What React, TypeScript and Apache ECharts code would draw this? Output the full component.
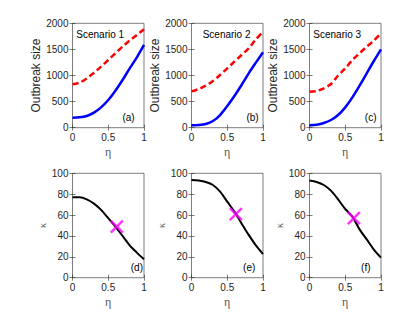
import React, { useEffect, useRef } from "react";
import * as echarts from "echarts";

const eta = [0, 0.1, 0.2, 0.3, 0.4, 0.5, 0.6, 0.7, 0.8, 0.9, 1.0];

const blueA = [192, 198, 224, 288, 390, 530, 709, 914, 1137, 1348, 1585];
const redA = [831, 863, 946, 1054, 1169, 1297, 1425, 1553, 1668, 1776, 1885];
const blueB = [45, 51, 70, 128, 243, 415, 607, 818, 1042, 1246, 1444];
const redB = [696, 741, 805, 895, 1010, 1137, 1265, 1393, 1521, 1690, 1835];
const blueC = [45, 58, 90, 147, 243, 390, 581, 805, 1042, 1278, 1502];
const redC = [690, 703, 754, 837, 1000, 1137, 1297, 1425, 1553, 1668, 1805];

const kappaD = [77, 77, 75, 71, 65, 57, 49, 40, 31, 24, 17.6];
const kappaE = [93.6, 93, 91.7, 88.8, 82.4, 72.8, 63.3, 52, 41, 31, 22.7];
const kappaF = [93, 91.7, 88.8, 83.4, 75, 65.8, 58.5, 46.3, 36.7, 27, 19.2];

const crossD = [0.62, 49];
const crossE = [0.62, 61];
const crossF = [0.62, 57];

const scenarioLabels = ["Scenario 1", "Scenario 2", "Scenario 3"];
const panelLabels = ["(a)", "(b)", "(c)", "(d)", "(e)", "(f)"];
const topYTicks = { min: 0, max: 2000, interval: 500 };
const botYTicks = { min: 0, max: 100, interval: 20 };
const xTicks = { min: 0, max: 1, interval: 0.5 };

const pairs = (ys: number[]) => eta.map((x, i) => [x, ys[i]]);

export default function App() {
  const ref = useRef<HTMLDivElement>(null);
  useEffect(() => {
    if (!ref.current) return;
    const chart = echarts.init(ref.current, undefined, { renderer: "svg" });
    const lefts = [72.5, 191.5, 309.5];
    const tops = [23.3, 173.3];
    const W = 71.5;
    const H = 104.4;
    const axisCol = "#262626";
    const font = "Liberation Sans";
    const plain = (v: number) => String(v);
    const grids: any[] = [];
    for (let r = 0; r < 2; r++)
      for (let c = 0; c < 3; c++)
        grids.push({
          left: lefts[c],
          top: tops[r],
          width: W,
          height: H,
          show: true,
          borderColor: axisCol,
          borderWidth: 0.6,
          backgroundColor: "#fff",
        });
    const xAxes: any[] = [];
    const yAxes: any[] = [];
    for (let i = 0; i < 6; i++) {
      xAxes.push({
        type: "value",
        gridIndex: i,
        ...xTicks,
        name: "η",
        nameLocation: "middle",
        nameGap: 18,
        nameTextStyle: { fontFamily: "Liberation Serif", fontSize: 12, color: "#555" },
        axisLine: { show: false },
        axisTick: { show: true, inside: true, length: 3, lineStyle: { color: axisCol, width: 0.6 } },
        axisLabel: { fontFamily: font, fontSize: 10, color: axisCol, margin: 5, formatter: plain },
        splitLine: { show: false },
      });
    }
    for (let i = 0; i < 6; i++) {
      xAxes.push({
        type: "value",
        gridIndex: i,
        position: "top",
        ...xTicks,
        axisLine: { show: false },
        axisTick: { show: true, inside: true, length: 3, lineStyle: { color: axisCol, width: 0.6 } },
        axisLabel: { show: false },
        splitLine: { show: false },
      });
    }
    for (let i = 0; i < 6; i++) {
      const top = i < 3;
      yAxes.push({
        type: "value",
        gridIndex: i,
        ...(top ? topYTicks : botYTicks),
        name: top ? "Outbreak size" : "κ",
        nameLocation: "middle",
        nameGap: top ? 29.5 : 24,
        nameRotate: 90,
        nameTextStyle: top
          ? { fontFamily: font, fontSize: 12, color: axisCol }
          : { fontFamily: "Liberation Serif", fontSize: 10, color: "#555" },
        axisLine: { show: false },
        axisTick: { show: true, inside: true, length: 3, lineStyle: { color: axisCol, width: 0.6 } },
        axisLabel: { fontFamily: font, fontSize: 10, color: axisCol, margin: 4, formatter: plain },
        splitLine: { show: false },
      });
    }
    for (let i = 0; i < 6; i++) {
      const top = i < 3;
      yAxes.push({
        type: "value",
        gridIndex: i,
        position: "right",
        ...(top ? topYTicks : botYTicks),
        axisLine: { show: false },
        axisTick: { show: true, inside: true, length: 3, lineStyle: { color: axisCol, width: 0.6 } },
        axisLabel: { show: false },
        splitLine: { show: false },
      });
    }
    const series: any[] = [];
    const blues = [blueA, blueB, blueC];
    const reds = [redA, redB, redC];
    for (let i = 0; i < 3; i++) {
      series.push({
        type: "line",
        xAxisIndex: i,
        yAxisIndex: i,
        data: pairs(reds[i]),
        smooth: 0.3,
        showSymbol: false,
        lineStyle: { color: "#ff0000", width: 2.5, type: [6, 3.5] },
      });
      series.push({
        type: "line",
        xAxisIndex: i,
        yAxisIndex: i,
        data: pairs(blues[i]),
        smooth: 0.3,
        showSymbol: false,
        lineStyle: { color: "#0000ff", width: 2.5 },
      });
    }
    const kappas = [kappaD, kappaE, kappaF];
    const crosses = [crossD, crossE, crossF];
    for (let i = 0; i < 3; i++) {
      series.push({
        type: "line",
        xAxisIndex: 3 + i,
        yAxisIndex: 3 + i,
        data: pairs(kappas[i]),
        smooth: 0.3,
        showSymbol: false,
        lineStyle: { color: "#000", width: 2 },
      });
      series.push({
        type: "scatter",
        xAxisIndex: 3 + i,
        yAxisIndex: 3 + i,
        data: [crosses[i]],
        symbol: "path://M0,0L10,10M10,0L0,10",
        symbolSize: 12,
        itemStyle: { color: "none", borderColor: "#ff00ff", borderWidth: 2.5 },
        z: 5,
      });
    }
    const graphic: any[] = [];
    const scen = [
      { x: 76.3, align: "left" },
      { x: 250.5, align: "right" },
      { x: 313.3, align: "left" },
    ];
    scen.forEach((s, i) =>
      graphic.push({
        type: "text",
        x: s.x,
        y: 34,
        style: {
          text: scenarioLabels[i],
          fontFamily: font,
          fontSize: 10,
          fill: "#000",
          align: s.align,
          verticalAlign: "middle",
        },
      })
    );
    const pl = [
      { x: 134.7, y: 117 },
      { x: 258.7, y: 117 },
      { x: 376.5, y: 117 },
      { x: 143, y: 267 },
      { x: 255.3, y: 267 },
      { x: 370.5, y: 267 },
    ];
    pl.forEach((p, i) =>
      graphic.push({
        type: "text",
        x: p.x,
        y: p.y,
        style: {
          text: panelLabels[i],
          fontFamily: font,
          fontSize: 10,
          fill: "#000",
          align: "right",
          verticalAlign: "middle",
        },
        z: 10,
      })
    );
    chart.setOption({
      animation: false,
      backgroundColor: "#fff",
      grid: grids,
      xAxis: xAxes,
      yAxis: yAxes,
      series,
      graphic,
    });
    return () => chart.dispose();
  }, []);
  return (
    <div
      ref={ref}
      style={{ position: "fixed", left: 0, top: 0, width: 420, height: 315 }}
    />
  );
}
